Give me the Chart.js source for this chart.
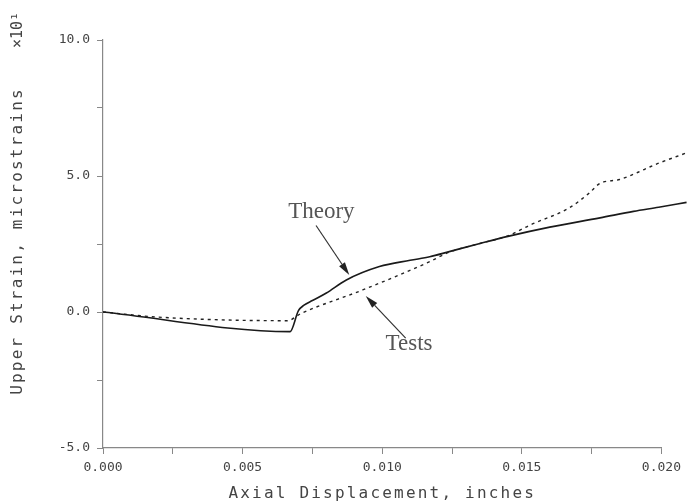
<!DOCTYPE html>
<html>
<head>
<meta charset="utf-8">
<script src="https://cdn.jsdelivr.net/npm/chart.js@4/dist/chart.umd.min.js"></script>
<style>
  html, body { margin: 0; padding: 0; background: #fff; }
  #wrap { width: 687px; height: 502px; }
</style>
</head>
<body>
<div id="wrap"><canvas id="strainChart"></canvas></div>
<script>
// axial displacement (in) vs upper strain (x10^1 microstrains)
const theoryX = [0, 0.0067, 0.0070, 0.0072, 0.0075, 0.0080, 0.0087, 0.0099, 0.0110, 0.0117, 0.0124, 0.0135, 0.0145, 0.0160, 0.0178, 0.0190, 0.0199, 0.0209];
const theoryY = [0, -0.72, 0.05, 0.25, 0.42, 0.70, 1.17, 1.67, 1.90, 2.03, 2.22, 2.52, 2.78, 3.12, 3.46, 3.70, 3.85, 4.03];

const testsX = [0, 0.0020, 0.0066, 0.0071, 0.0093, 0.0117, 0.0124, 0.0135, 0.0145, 0.0153, 0.0167, 0.0174, 0.0178, 0.0185, 0.0191, 0.0196, 0.0199, 0.0209];
const testsY = [0, -0.19, -0.32, -0.05, 0.81, 1.85, 2.20, 2.52, 2.80, 3.20, 3.83, 4.36, 4.73, 4.87, 5.11, 5.34, 5.47, 5.85];

const xTicks = [0, 0.005, 0.010, 0.015, 0.020];
const yTicks = [-5, 0, 5, 10];

const xTitle = 'Axial Displacement, inches';
const yTitle = 'Upper Strain, microstrains';
const yExponent = '\u00d710\u00b9';

// callouts: label position and arrow, in data units
const notes = [
    { text: 'Theory', x: 0.00782, y: 3.68, from: [0.00763, 3.18], to: [0.00882, 1.36] },
    { text: 'Tests', x: 0.01096, y: -1.18, from: [0.01084, -0.96], to: [0.00941, 0.59] }
];

const toPoints = (xs, ys) => xs.map((x, i) => ({ x: x, y: ys[i] }));

const calloutPlugin = {
    id: 'callouts',
    afterDatasetsDraw(chart) {
        const ctx = chart.ctx;
        const sx = chart.scales.x, sy = chart.scales.y;
        const area = chart.chartArea;
        ctx.save();
        notes.forEach(n => {
            ctx.font = '23px "Liberation Serif", serif';
            ctx.fillStyle = '#555';
            ctx.textAlign = 'center';
            ctx.textBaseline = 'middle';
            ctx.fillText(n.text, sx.getPixelForValue(n.x), sy.getPixelForValue(n.y));

            const x1 = sx.getPixelForValue(n.from[0]), y1 = sy.getPixelForValue(n.from[1]);
            const x2 = sx.getPixelForValue(n.to[0]), y2 = sy.getPixelForValue(n.to[1]);
            const a = Math.atan2(y2 - y1, x2 - x1);
            const len = 13, half = 3.5;
            const bx = x2 - len * Math.cos(a), by = y2 - len * Math.sin(a);
            ctx.strokeStyle = '#333';
            ctx.lineWidth = 1.2;
            ctx.beginPath();
            ctx.moveTo(x1, y1);
            ctx.lineTo(bx, by);
            ctx.stroke();
            ctx.fillStyle = '#222';
            ctx.beginPath();
            ctx.moveTo(x2, y2);
            ctx.lineTo(bx + half * Math.sin(a), by - half * Math.cos(a));
            ctx.lineTo(bx - half * Math.sin(a), by + half * Math.cos(a));
            ctx.closePath();
            ctx.fill();
        });

        // axis titles, spaced out like the plotter lettering
        ctx.font = '16px "DejaVu Sans Mono", monospace';
        ctx.fillStyle = '#444';
        ctx.textAlign = 'center';
        ctx.textBaseline = 'middle';
        ctx.letterSpacing = '2.2px';
        ctx.fillText(xTitle, (area.left + area.right) / 2, 494);

        ctx.save();
        ctx.translate(18, (area.top + area.bottom) / 2 - 3);
        ctx.rotate(-Math.PI / 2);
        ctx.fillText(yTitle, 0, 0);
        ctx.restore();

        ctx.letterSpacing = '0px';
        ctx.translate(18, 30);
        ctx.rotate(-Math.PI / 2);
        ctx.font = '15px "DejaVu Sans Mono", monospace';
        ctx.fillText(yExponent, 0, 0);
        ctx.restore();
    }
};

const monoTick = { family: '"DejaVu Sans Mono", monospace', size: 13 };

new Chart(document.getElementById('strainChart'), {
    type: 'scatter',
    data: {
        datasets: [{
            label: 'Theory',
            data: toPoints(theoryX, theoryY),
            showLine: true,
            borderColor: '#1a1a1a',
            borderWidth: 1.6,
            pointRadius: 0,
            cubicInterpolationMode: 'monotone',
            clip: false
        }, {
            label: 'Tests',
            data: toPoints(testsX, testsY),
            showLine: true,
            borderColor: '#222',
            borderWidth: 1.4,
            borderDash: [3, 4],
            pointRadius: 0,
            cubicInterpolationMode: 'monotone',
            clip: false
        }]
    },
    options: {
        responsive: true,
        maintainAspectRatio: false,
        animation: false,
        layout: { padding: { top: 40, right: 24, left: 0, bottom: 0 } },
        plugins: {
            legend: { display: false },
            tooltip: { enabled: false }
        },
        scales: {
            x: {
                type: 'linear',
                min: 0,
                max: 0.020,
                afterFit: s => { s.height = 54; },
                afterBuildTicks: s => {
                    const t = [];
                    for (let i = 0; i <= 8; i++) t.push({ value: i * 0.0025 });
                    s.ticks = t;
                },
                border: { color: '#888', width: 1.2 },
                grid: { drawOnChartArea: false, tickLength: 6, tickColor: '#888' },
                ticks: {
                    color: '#444',
                    font: monoTick,
                    padding: 6,
                    maxRotation: 0,
                    autoSkip: false,
                    callback: v => {
                        const hit = xTicks.find(t => Math.abs(t - v) < 1e-6);
                        return hit === undefined ? '' : hit.toFixed(3);
                    }
                }
            },
            y: {
                min: -5,
                max: 10,
                afterFit: s => { s.width = 103; },
                afterBuildTicks: s => {
                    const t = [];
                    for (let i = 0; i <= 6; i++) t.push({ value: -5 + i * 2.5 });
                    s.ticks = t;
                },
                border: { color: '#888', width: 1.2 },
                grid: { drawOnChartArea: false, tickLength: 6, tickColor: '#888' },
                ticks: {
                    color: '#444',
                    font: monoTick,
                    padding: 7,
                    autoSkip: false,
                    callback: v => {
                        const hit = yTicks.find(t => Math.abs(t - v) < 1e-6);
                        return hit === undefined ? '' : hit.toFixed(1);
                    }
                }
            }
        }
    },
    plugins: [calloutPlugin]
});
</script>
</body>
</html>
